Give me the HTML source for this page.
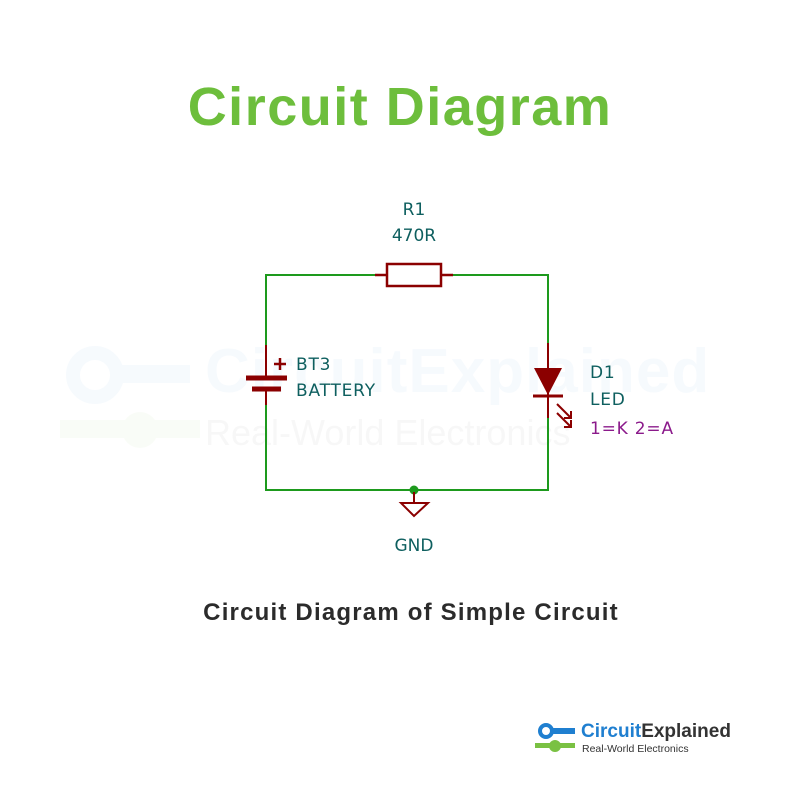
<!DOCTYPE html>
<html><head><style>
body{margin:0;background:#fff;}
</style></head><body>
<svg width="800" height="800" viewBox="0 0 800 800" xmlns="http://www.w3.org/2000/svg">
<rect width="800" height="800" fill="#fff"/>
<!-- watermark -->
<g opacity="0.035">
<circle cx="95" cy="375" r="22" fill="none" stroke="#1f7fd0" stroke-width="14"/>
<rect x="115" y="365" width="75" height="18" fill="#1f7fd0"/>
<circle cx="140" cy="430" r="18" fill="#7ac143"/>
<rect x="60" y="420" width="140" height="18" fill="#7ac143"/>
<text x="205" y="392" font-family="Liberation Sans, sans-serif" font-weight="bold" font-size="62" letter-spacing="1" fill="#1f7fd0">CircuitExplained</text>
<text x="205" y="445" font-family="Liberation Sans, sans-serif" font-size="36" fill="#333">Real-World Electronics</text>
</g>
<text x="400" y="125" text-anchor="middle" font-family="Liberation Sans, sans-serif" font-weight="bold" font-size="54" letter-spacing="1.5" fill="#6dbe3c">Circuit Diagram</text>
<!-- wires -->
<g stroke="#1d9a1d" stroke-width="2" fill="none">
<polyline points="375,275 266,275 266,345"/>
<polyline points="266,405 266,490 548,490 548,418"/>
<polyline points="453,275 548,275 548,343"/>
</g>
<!-- resistor -->
<g stroke="#8b0000" stroke-width="2.5" fill="none">
<line x1="375" y1="275" x2="387" y2="275"/>
<line x1="441" y1="275" x2="453" y2="275"/>
<rect x="387" y="264" width="54" height="22"/>
</g>
<text x="414" y="215" text-anchor="middle" font-family="DejaVu Sans, sans-serif" font-size="17" fill="#0e5f5f">R1</text>
<text x="414" y="241" text-anchor="middle" font-family="DejaVu Sans, sans-serif" font-size="17" fill="#0e5f5f">470R</text>
<!-- battery -->
<g stroke="#8b0000" fill="none">
<line x1="266" y1="345" x2="266" y2="378" stroke-width="2"/>
<line x1="266" y1="388" x2="266" y2="405" stroke-width="2"/>
<line x1="246" y1="378" x2="287" y2="378" stroke-width="5"/>
<line x1="252" y1="389" x2="281" y2="389" stroke-width="5"/>
<line x1="274" y1="364" x2="286" y2="364" stroke-width="2.5"/>
<line x1="280" y1="358" x2="280" y2="370" stroke-width="2.5"/>
</g>
<text x="296" y="370" font-family="DejaVu Sans, sans-serif" font-size="17" letter-spacing="0.8" fill="#0e5f5f">BT3</text>
<text x="296" y="396" font-family="DejaVu Sans, sans-serif" font-size="17" letter-spacing="0.8" fill="#0e5f5f">BATTERY</text>
<!-- LED -->
<g stroke="#8b0000" stroke-width="2" fill="none">
<line x1="548" y1="343" x2="548" y2="418"/>
<line x1="533" y1="396" x2="563" y2="396" stroke-width="3"/>
<line x1="557" y1="404" x2="571" y2="418"/>
<polyline points="564,418 571,418 571,411"/>
<line x1="557" y1="413" x2="571" y2="427"/>
<polyline points="564,427 571,427 571,420"/>
</g>
<polygon points="534,368 562,368 548,395" fill="#8b0000"/>
<text x="590" y="378" font-family="DejaVu Sans, sans-serif" font-size="17" letter-spacing="0.8" fill="#0e5f5f">D1</text>
<text x="590" y="405" font-family="DejaVu Sans, sans-serif" font-size="17" letter-spacing="0.8" fill="#0e5f5f">LED</text>
<text x="590" y="434" font-family="DejaVu Sans, sans-serif" font-size="17" letter-spacing="0.8" fill="#8b1a8b">1=K 2=A</text>
<!-- GND -->
<circle cx="414" cy="490" r="4.5" fill="#1d9a1d"/>
<g stroke="#8b0000" stroke-width="2" fill="none">
<line x1="414" y1="492" x2="414" y2="503"/>
<polygon points="401,503 428,503 414,516"/>
</g>
<text x="414" y="551" text-anchor="middle" font-family="DejaVu Sans, sans-serif" font-size="17" fill="#0e5f5f">GND</text>
<text x="411" y="620" text-anchor="middle" font-family="Liberation Sans, sans-serif" font-weight="bold" font-size="24" letter-spacing="1.2" fill="#2b2b2b">Circuit Diagram of Simple Circuit</text>
<!-- logo -->
<circle cx="546" cy="731" r="6" fill="none" stroke="#1f7fd0" stroke-width="4"/>
<rect x="551" y="728" width="24" height="6" fill="#1f7fd0"/>
<rect x="535" y="743" width="40" height="5" fill="#7ac143"/>
<circle cx="555" cy="746" r="6" fill="#7ac143"/>
<text x="581" y="737" font-family="Liberation Sans, sans-serif" font-weight="bold" font-size="19" fill="#1f7fd0">Circuit<tspan fill="#333">Explained</tspan></text>
<text x="582" y="752" font-family="Liberation Sans, sans-serif" font-size="10.5" fill="#333">Real-World Electronics</text>
</svg>
</body></html>
